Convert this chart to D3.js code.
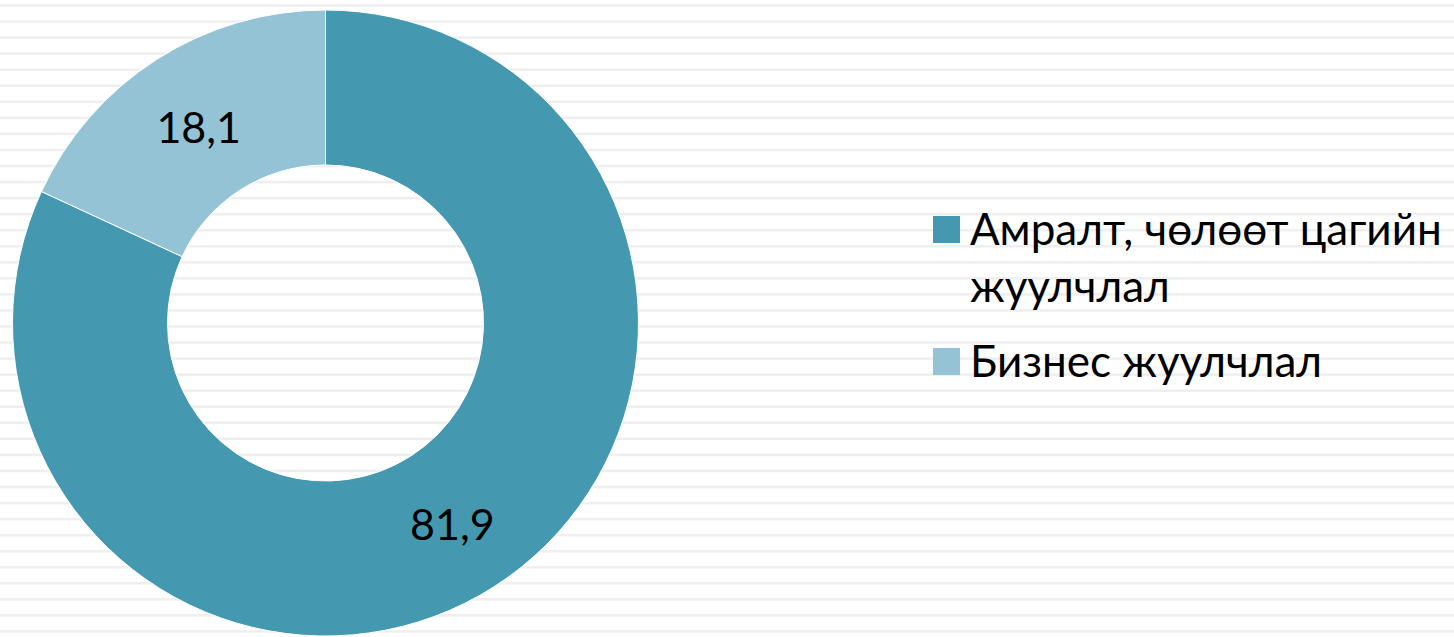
<!DOCTYPE html>
<html><head><meta charset="utf-8">
<script src="https://cdn.jsdelivr.net/npm/d3@7"></script>
<style>html,body{margin:0;padding:0;background:#fff;overflow:hidden}</style>
</head><body>
<svg id="c" width="1454" height="637"></svg>
<script>
const categories = ["Амралт, чөлөөт цагийн жуулчлал", "Бизнес жуулчлал"];
const legendLines = [["Амралт, чөлөөт цагийн", "жуулчлал"], ["Бизнес жуулчлал"]];
const values = [81.9, 18.1];
const labels = ["81,9", "18,1"];
const colors = ["#4499b0", "#93c3d4"];

const W = 1454, H = 637;
const svg = d3.select("#c");

// striped background
const bg = svg.append("g");
for (let y = 4.2; y < H; y += 16.05) {
  bg.append("rect").attr("x", 0).attr("y", y).attr("width", W).attr("height", 2.6).attr("fill", "#efefef");
}

const cx = 325.5, cy = 323, rOuter = 313, rInner = 158;
const pie = d3.pie().sort(null).value(d => d)(values);
const arc = d3.arc().innerRadius(rInner).outerRadius(rOuter);
const g = svg.append("g").attr("transform", `translate(${cx},${cy})`);
g.selectAll("path").data(pie).join("path")
  .attr("d", arc).attr("fill", (d, i) => colors[i])
  .attr("stroke", "#fff").attr("stroke-width", 1);
g.selectAll("text").data(pie).join("text")
  .attr("transform", d => { const c = arc.centroid(d); return `translate(${c[0]},${c[1] + 3})`; })
  .attr("text-anchor", "middle").attr("dy", "0.35em")
  .attr("font-family", "Lato, 'Open Sans'").attr("font-size", 43).attr("fill", "#000")
  .text((d, i) => labels[i]);

// legend
const leg = svg.append("g");
const entryY = [229.5, 361.5];
legendLines.forEach((lines, i) => {
  leg.append("rect").attr("x", 933).attr("y", entryY[i] - 13.5).attr("width", 27).attr("height", 27).attr("fill", colors[i]);
  lines.forEach((t, j) => {
    leg.append("text").attr("x", 970).attr("y", entryY[i] + j * 57).attr("dy", "0.35em")
      .attr("font-family", "Lato, 'Open Sans'").attr("font-size", 44).attr("fill", "#000").text(t);
  });
});
</script>
</body></html>
